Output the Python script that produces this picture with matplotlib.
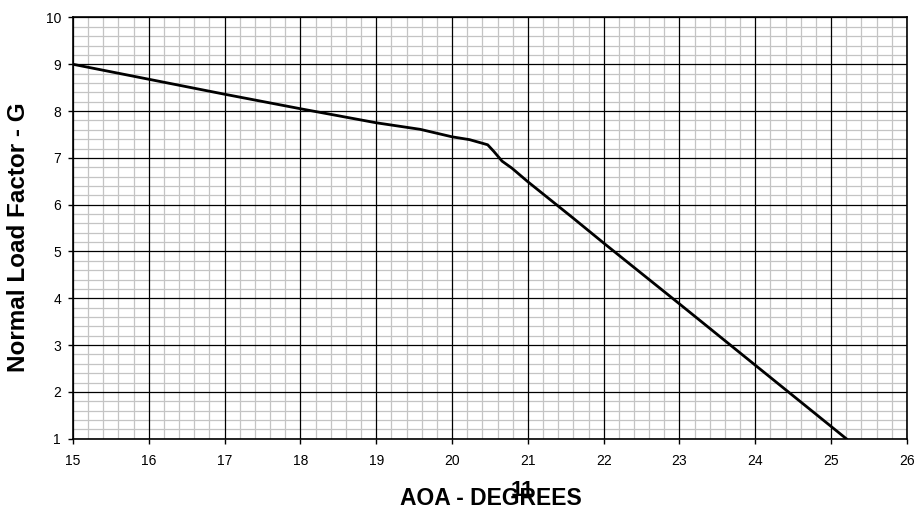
import matplotlib
matplotlib.use('Agg')
import matplotlib.pyplot as plt
from matplotlib.ticker import MultipleLocator

# curve
aoa = [15.0, 16.0, 17.0, 18.0, 19.0, 19.58, 20.0, 20.23, 20.47, 20.55,
       20.66, 20.79, 21.0, 21.6, 22.0, 23.0, 24.0, 25.2]
load = [9.0, 8.68, 8.36, 8.05, 7.75, 7.61, 7.45, 7.39, 7.28, 7.14,
        6.93, 6.78, 6.49, 5.71, 5.18, 3.88, 2.57, 1.0]

x_ticks = list(range(15, 27))
y_ticks = list(range(1, 11))
page_number = '11'

plt.rcParams['font.family'] = ['Liberation Sans', 'DejaVu Sans']

fig = plt.figure(figsize=(9.17, 5.11), dpi=100)
ax = fig.add_axes([0.0796, 0.1415, 0.9094, 0.8243])

ax.set_xlim(15, 26)
ax.set_ylim(1, 10)

# light minor grid underneath
ax.xaxis.set_minor_locator(MultipleLocator(0.2))
ax.yaxis.set_minor_locator(MultipleLocator(0.2))
ax.grid(which='minor', color='#c4c4c4', linewidth=0.9)
ax.set_axisbelow(True)

# black major grid on top of the minor one
ax.vlines(x_ticks, 1, 10, color='black', linewidth=0.9, zorder=1.5)
ax.hlines(y_ticks, 15, 26, color='black', linewidth=0.9, zorder=1.5)

ax.plot(aoa, load, color='black', linewidth=2.0, solid_joinstyle='round',
        zorder=3)

ax.set_xticks(x_ticks)
ax.set_yticks(y_ticks)
ax.tick_params(which='major', direction='out', length=3.6, width=1,
               labelsize=10, color='black')
ax.tick_params(axis='x', pad=7.5)
ax.tick_params(axis='y', pad=5)
ax.tick_params(which='minor', length=0)

for s in ax.spines.values():
    s.set_color('black')
    s.set_linewidth(1.2)
    s.set_zorder(4)

ax.set_xlabel('AOA - DEGREES', fontsize=16.5, fontweight='bold')
ax.xaxis.set_label_coords(0.5006, -0.141)
ax.xaxis.label.set_va('center')
ax.set_ylabel('Normal Load Factor - G', fontsize=17.5, fontweight='bold')
ax.yaxis.set_label_coords(-0.065, 0.479)
ax.yaxis.label.set_va('center')

# stray page number overlapping the axis title
fig.text(522 / 917, 1 - 496 / 511, page_number, fontsize=16,
         fontweight='bold', ha='center', va='baseline')

fig.savefig('out.png', dpi=100)
